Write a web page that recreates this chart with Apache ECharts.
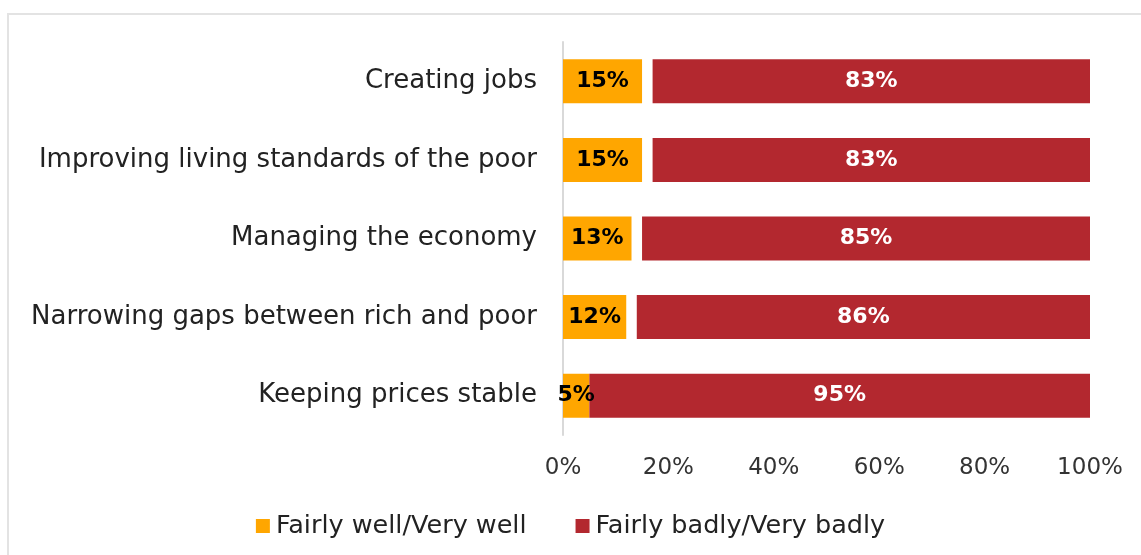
<!DOCTYPE html>
<html>
<head>
<meta charset="utf-8">
<script src="https://cdn.jsdelivr.net/npm/echarts@6/dist/echarts.min.js"></script>
<style>
  html, body { margin: 0; padding: 0; background: #fff; }
  #frame { position: absolute; left: 7px; top: 13px; width: 1140px; height: 550px; border: 2px solid #e3e3e3; box-sizing: border-box; }
  #chart { position: absolute; left: 0; top: 0; width: 1141px; height: 555px; }
</style>
</head>
<body>
<div id="frame"></div>
<div id="chart"></div>
<script>
// Topics, top row first
const categories = [
  'Creating jobs',
  'Improving living standards of the poor',
  'Managing the economy',
  'Narrowing gaps between rich and poor',
  'Keeping prices stable'
];
const wellValues = [15, 15, 13, 12, 5];
const badlyValues = [83, 83, 85, 86, 95];
// remaining share (no answer), left blank between the two segments
const otherValues = [2, 2, 2, 2, 0];
const xTicks = [0, 20, 40, 60, 80, 100];

const FONT = 'DejaVu Sans';
const chart = echarts.init(document.getElementById('chart'));

chart.setOption({
  animation: false,
  textStyle: { fontFamily: FONT },
  grid: { left: 563, right: 51, top: 42, bottom: 120 },
  legend: {
    data: ['Fairly well/Very well', 'Fairly badly/Very badly'],
    top: 508,
    left: 'center',
    itemWidth: 14,
    itemHeight: 14,
    itemGap: 49,
    icon: 'rect',
    textStyle: { fontFamily: FONT, fontSize: 25.5, color: '#222', padding: [0, 0, 0, 1] }
  },
  xAxis: {
    type: 'value',
    min: 0,
    max: 100,
    interval: 20,
    axisLine: { show: false },
    axisTick: { show: false },
    splitLine: { show: false },
    axisLabel: {
      margin: 22,
      fontFamily: FONT,
      fontSize: 23,
      color: '#333',
      formatter: v => xTicks.includes(v) ? v + '%' : ''
    }
  },
  yAxis: {
    type: 'category',
    inverse: true,
    data: categories,
    axisLine: { show: true, lineStyle: { color: '#d9d9d9', width: 2 } },
    axisTick: { show: false },
    axisLabel: { margin: 26, fontFamily: FONT, fontSize: 26, color: '#222' }
  },
  series: [
    {
      name: 'Fairly well/Very well',
      type: 'bar',
      stack: 'all',
      barCategoryGap: '44%',
      data: wellValues,
      itemStyle: { color: '#ffa600' },
      label: {
        show: true,
        position: 'inside',
        formatter: '{c}%',
        fontFamily: FONT,
        fontWeight: 'bold',
        fontSize: 22,
        color: '#000'
      }
    },
    {
      name: 'Other',
      type: 'bar',
      stack: 'all',
      data: otherValues,
      itemStyle: { color: 'rgba(0,0,0,0)' },
      silent: true
    },
    {
      name: 'Fairly badly/Very badly',
      type: 'bar',
      stack: 'all',
      data: badlyValues,
      itemStyle: { color: '#b3282f' },
      label: {
        show: true,
        position: 'inside',
        formatter: '{c}%',
        fontFamily: FONT,
        fontWeight: 'bold',
        fontSize: 22,
        color: '#fff'
      }
    }
  ]
});
</script>
</body>
</html>
